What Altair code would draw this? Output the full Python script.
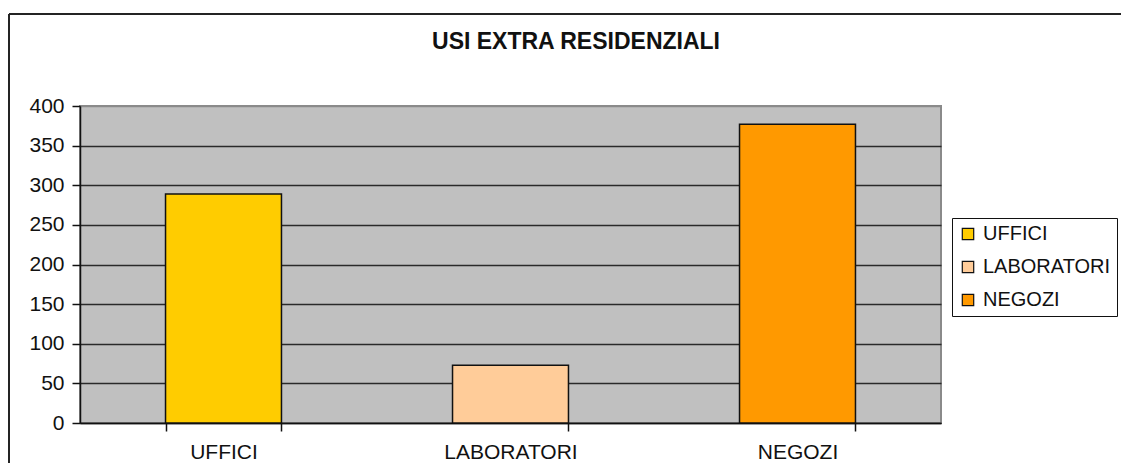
import altair as alt
import pandas as pd

categories = ["UFFICI", "LABORATORI", "NEGOZI"]
values = [289, 73, 377]
colors = ["#FFCC00", "#FFCC99", "#FF9900"]
y_ticks = [0, 50, 100, 150, 200, 250, 300, 350, 400]
title_text = "USI EXTRA RESIDENZIALI"

df = pd.DataFrame({"categoria": categories, "valore": values})
title_df = pd.DataFrame({"t": [title_text]})

FONT = "Liberation Sans"

bars = alt.Chart(df).mark_bar(stroke="#111", strokeWidth=1.5).encode(
    x=alt.X(
        "categoria:N",
        sort=categories,
        scale=alt.Scale(paddingInner=0.596, paddingOuter=0.298),
        axis=alt.Axis(
            title=None, labelAngle=0, tickBand="extent", tickSize=8,
            tickColor="#111", tickWidth=1.5, domainColor="#111", domainWidth=1.5,
            labelPadding=10, labelFontSize=21, labelFont=FONT, labelColor="#111",
            grid=False,
        ),
    ),
    y=alt.Y(
        "valore:Q",
        scale=alt.Scale(domain=[0, 400], nice=False),
        axis=alt.Axis(
            title=None, values=y_ticks, tickSize=8, tickColor="#111", tickWidth=1.5,
            domainColor="#111", domainWidth=1.5, labelPadding=8, labelFontSize=21,
            labelFont=FONT, labelColor="#111",
            grid=True,
            gridColor={"condition": {"test": "datum.value == 400", "value": "#8a8a8a"}, "value": "#2a2a2a"},
            gridWidth=1.5,
        ),
    ),
    color=alt.Color(
        "categoria:N",
        sort=categories,
        scale=alt.Scale(domain=categories, range=colors),
        legend=alt.Legend(
            title=None, orient="none", legendX=872, legendY=112,
            symbolType="square", symbolSize=130, symbolStrokeColor="#111",
            symbolStrokeWidth=1.2, labelFontSize=20, labelFont=FONT,
            labelColor="#111", rowPadding=13, padding=6, strokeColor="#111",
            fillColor="white", symbolOffset=0, labelOffset=5, labelLimit=300,
        ),
    ),
)

title_mark = alt.Chart(title_df).mark_text(
    font=FONT, fontSize=23, fontWeight="bold", color="#111",
    align="center", baseline="alphabetic",
).encode(x=alt.value(496), y=alt.value(-57), text="t:N")

frame_left = alt.Chart(df).mark_rule(color="#222", strokeWidth=1.5).encode(
    x=alt.value(-71), y=alt.value(-92), y2=alt.value(400)
)
frame_top = alt.Chart(df).mark_rule(color="#222", strokeWidth=1.5).encode(
    x=alt.value(-71), x2=alt.value(1100), y=alt.value(-92)
)

chart = alt.layer(frame_left, frame_top, bars, title_mark).properties(
    width=861,
    height=317,
    autosize=alt.AutoSizeParams(type="none"),
    padding={"left": 72, "top": 98, "right": 180, "bottom": 40},
).configure(
    background="white"
).configure_view(
    fill="#C0C0C0", stroke="#8a8a8a", strokeWidth=2
)

chart.save("out.html", embed_options={"renderer": "svg", "actions": False})
